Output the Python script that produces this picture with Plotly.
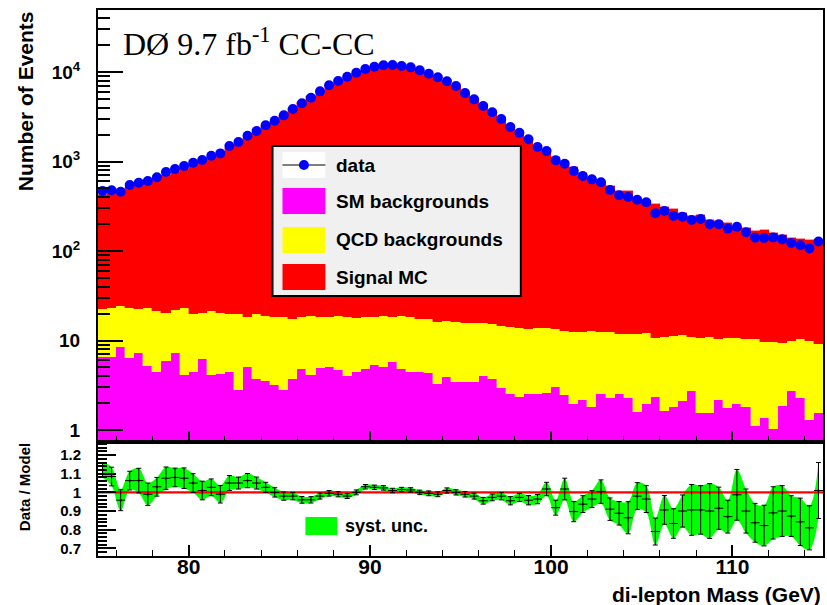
import plotly.graph_objects as go

# ---------------- data ----------------
mass_bins = [75.25 + 0.5 * i for i in range(80)]          # bin centres, GeV
bin_width = 0.5

data_events = [468, 478, 460, 547, 580, 605, 666, 763, 824, 890,
               970, 1040, 1160, 1232, 1490, 1650, 1940, 2190, 2540, 2860,
               3280, 3860, 4470, 5160, 6080, 7100, 7920, 8850, 9810, 10800,
               11460, 11880, 11970, 11670, 11280, 10440, 9580, 8730, 7870, 6980,
               5820, 4950, 4170, 3550, 2990, 2430, 2100, 1770, 1450, 1310,
               1030, 946, 784, 689, 632, 586, 481, 419, 401, 374,
               350, 264, 280, 246, 242, 222, 228, 199, 199, 178,
               187, 162, 141, 140, 142, 135, 123, 116, 107, 128]

sm_backgrounds = [6.6, 6.6, 8.5, 6.3, 7.2, 5.2, 4.5, 5.9, 7.3, 4.15,
                  4.45, 6.2, 4.1, 4.2, 4.5, 2.8, 5.05, 3.7, 3.5, 3.2,
                  2.8, 3.7, 4.85, 4.15, 4.9, 5.0, 4.7, 4.0, 4.5, 4.85,
                  5.3, 5.0, 5.8, 4.85, 4.45, 4.4, 4.3, 3.3, 3.9, 3.4,
                  3.4, 3.45, 4.0, 3.7, 2.97, 2.5, 2.35, 2.5, 2.55, 2.6,
                  3.05, 2.45, 1.94, 2.16, 1.79, 2.55, 2.3, 2.55, 2.26, 1.57,
                  1.94, 2.35, 1.64, 1.79, 2.1, 2.75, 1.54, 1.56, 2.15, 1.75,
                  1.94, 1.82, 1.11, 1.35, 1.02, 1.87, 2.75, 2.3, 1.29, 1.54]

sm_plus_qcd = [22.5, 22.9, 24.5, 23.0, 22.5, 22.9, 21.5, 20.5, 21.9, 22.9,
               19.8, 20.5, 21.4, 20.1, 19.6, 19.6, 18.2, 19.8, 18.8, 18.5,
               18.2, 17.5, 18.2, 19.0, 18.2, 18.5, 18.8, 18.5, 17.8, 18.2,
               18.5, 18.8, 18.5, 18.8, 18.2, 17.3, 17.3, 16.0, 16.5, 16.0,
               15.6, 15.8, 15.8, 15.2, 14.5, 14.0, 13.7, 13.5, 13.8, 13.8,
               13.5, 12.7, 12.6, 12.4, 12.7, 12.4, 12.4, 11.9, 11.9, 11.7,
               12.2, 10.6, 11.0, 11.2, 11.5, 11.0, 10.6, 10.9, 10.3, 10.8,
               10.6, 10.3, 10.3, 9.7, 9.7, 9.5, 10.0, 10.4, 10.0, 9.1]

data_over_model = [1.12, 1.085, 0.958, 1.063, 1.063, 0.99, 1.03, 1.076, 1.08, 1.076,
                   1.05, 1.01, 1.027, 0.99, 1.05, 1.05, 1.063, 1.05, 1.027, 1.0,
                   0.98, 0.98, 0.96, 0.96, 0.98, 0.995, 0.99, 0.98, 1.0, 1.03,
                   1.027, 1.024, 1.01, 1.015, 1.013, 1.0, 0.995, 0.99, 1.01, 1.0,
                   0.99, 0.98, 0.955, 0.973, 0.98, 0.955, 0.973, 0.958, 0.964, 1.018,
                   0.918, 1.018, 0.897, 0.937, 0.964, 1.004, 0.91, 0.888, 0.864, 0.98,
                   0.964, 0.79, 0.906, 0.833, 0.9, 0.906, 0.906, 0.9, 0.915, 0.87,
                   0.987, 0.9, 0.837, 0.822, 0.89, 0.9, 0.873, 0.842, 0.81, 1.01]

ratio_unc = [0.04, 0.05, 0.056, 0.05, 0.066, 0.06, 0.05, 0.06, 0.05, 0.055,
             0.05, 0.05, 0.045, 0.047, 0.04, 0.032, 0.038, 0.032, 0.027, 0.025,
             0.022, 0.02, 0.018, 0.017, 0.016, 0.015, 0.014, 0.013, 0.013, 0.012,
             0.012, 0.012, 0.012, 0.012, 0.012, 0.012, 0.013, 0.013, 0.014, 0.014,
             0.015, 0.016, 0.018, 0.018, 0.02, 0.022, 0.022, 0.025, 0.025, 0.036,
             0.04, 0.058, 0.054, 0.045, 0.045, 0.063, 0.06, 0.063, 0.086, 0.072,
             0.072, 0.072, 0.077, 0.079, 0.086, 0.136, 0.13, 0.147, 0.113, 0.088,
             0.136, 0.118, 0.104, 0.109, 0.14, 0.136, 0.109, 0.127, 0.118, 0.15]

y_tick_vals = [1, 10, 100, 1000, 10000]
y_tick_text = ["1", "10", "10<sup>2</sup>", "10<sup>3</sup>", "10<sup>4</sup>"]
r_tick_vals = [0.7, 0.8, 0.9, 1.0, 1.1, 1.2]
r_tick_text = ["0.7", "0.8", "0.9", "1", "1.1", "1.2"]
x_tick_vals = [80, 90, 100, 110]

# derived stack components
qcd_backgrounds = [t - s for t, s in zip(sm_plus_qcd, sm_backgrounds)]
model_total = [d / r for d, r in zip(data_events, data_over_model)]
signal_mc = [m - t for m, t in zip(model_total, sm_plus_qcd)]
band_lo = [r - e for r, e in zip(data_over_model, ratio_unc)]
band_hi = [r + e for r, e in zip(data_over_model, ratio_unc)]

# ---------------- geometry helpers ----------------
W, H = 827, 605
ML, MR, MT, MB = 98, 2, 10, 49
PW, PH = W - ML - MR, H - MT - MB
split = (556 - 442) / PH


def px(x):
    return (x - ML) / PW


def py(y):
    return (H - MB - y) / PH


FONT = "Liberation Sans, Arial, sans-serif"
fig = go.Figure()

# stacked histograms
for vals, col in [(sm_backgrounds, "#ff00ff"), (qcd_backgrounds, "#ffff00"), (signal_mc, "#ff0000")]:
    fig.add_trace(go.Bar(x=mass_bins, y=vals, width=bin_width,
                         marker=dict(color=col, line=dict(width=0.4, color=col)),
                         xaxis="x", yaxis="y", showlegend=False, hoverinfo="skip"))

# data points
fig.add_trace(go.Scatter(x=mass_bins, y=data_events, mode="markers",
                         marker=dict(color="#0000ff", size=10),
                         xaxis="x", yaxis="y", showlegend=False))

# ratio panel: syst band
fig.add_trace(go.Scatter(x=mass_bins, y=band_lo, mode="lines",
                         line=dict(width=0, shape="spline", smoothing=1, color="#00ff00"),
                         xaxis="x2", yaxis="y2", showlegend=False, hoverinfo="skip"))
fig.add_trace(go.Scatter(x=mass_bins, y=band_hi, mode="lines", fill="tonexty",
                         fillcolor="#00ff00",
                         line=dict(width=0, shape="spline", smoothing=1, color="#00ff00"),
                         xaxis="x2", yaxis="y2", showlegend=False, hoverinfo="skip"))
# reference line at 1
fig.add_trace(go.Scatter(x=[75, 115], y=[1, 1], mode="lines",
                         line=dict(color="#ff0000", width=2.2),
                         xaxis="x2", yaxis="y2", showlegend=False, hoverinfo="skip"))
# ratio points
fig.add_trace(go.Scatter(x=mass_bins, y=data_over_model, mode="markers",
                         marker=dict(color="black", size=2),
                         error_x=dict(type="constant", value=bin_width / 2, color="black",
                                      thickness=1, width=0),
                         error_y=dict(type="data", array=ratio_unc, color="black",
                                      thickness=1, width=2.5),
                         xaxis="x2", yaxis="y2", showlegend=False))

minor_x = [v for v in range(76, 115, 2) if v % 10 != 0]
minor_y = [m * 10 ** e for e in range(0, 5) for m in range(2, 10) if m * 10 ** e < 50000]
minor_r = [round(0.66 + 0.02 * i, 2) for i in range(31)]
minor_r = [v for v in minor_r if abs(v * 10 - round(v * 10)) > 1e-6]

common_x = dict(range=[75, 115], showline=True, mirror=True, linecolor="black", linewidth=2,
                ticks="inside", tickvals=x_tick_vals, ticklen=11, tickwidth=1.5, tickcolor="black",
                showgrid=False, zeroline=False,
                minor=dict(ticks="inside", tickvals=minor_x, ticklen=6, tickwidth=1,
                           tickcolor="black", showgrid=False))

fig.update_layout(
    width=W, height=H, margin=dict(l=ML, r=MR, t=MT, b=MB),
    paper_bgcolor="white", plot_bgcolor="white",
    barmode="stack", bargap=0, showlegend=False,
    font=dict(family=FONT, color="black"),
    xaxis=dict(domain=[0, 1], anchor="y", showticklabels=False, **common_x),
    xaxis2=dict(domain=[0, 1], anchor="y2", matches="x", showticklabels=True,
                ticktext=[str(v) for v in x_tick_vals], ticklabelstandoff=-9,
                tickfont=dict(family=FONT, size=21, weight="bold"), **common_x),
    yaxis=dict(domain=[split, 1], anchor="x", type="log", range=[-0.134, 4.693],
               showline=True, mirror=True, linecolor="black", linewidth=2,
               ticks="inside", tickmode="array", tickvals=y_tick_vals, ticktext=y_tick_text,
               ticklen=25, tickwidth=2, tickcolor="black", ticklabelstandoff=12,
               tickfont=dict(family=FONT, size=19, weight="bold"),
               showgrid=False, zeroline=False,
               minor=dict(ticks="inside", tickmode="array", tickvals=minor_y, ticklen=12,
                          tickwidth=2, tickcolor="black", showgrid=False)),
    yaxis2=dict(domain=[0, split], anchor="x2", range=[0.659, 1.27],
                showline=True, mirror=True, linecolor="black", linewidth=2,
                ticks="inside", tickmode="array", tickvals=r_tick_vals, ticktext=r_tick_text,
                ticklen=18, tickwidth=2, tickcolor="black", ticklabelstandoff=12,
                tickfont=dict(family=FONT, size=15, weight="bold"),
                showgrid=False, zeroline=False,
                minor=dict(ticks="inside", tickmode="array", tickvals=minor_r, ticklen=9,
                           tickwidth=1.5, tickcolor="black", showgrid=False)),
)

shapes = []
annotations = []

# main legend box
shapes.append(dict(type="rect", xref="paper", yref="paper", x0=px(273), x1=px(522),
                   y0=py(296), y1=py(146), fillcolor="#f0f0f0",
                   line=dict(color="black", width=2), layer="above"))
# data entry
shapes.append(dict(type="rect", xref="paper", yref="paper", x0=px(283), x1=px(326),
                   y0=py(178), y1=py(152), fillcolor="white", line=dict(width=0), layer="above"))
shapes.append(dict(type="line", xref="paper", yref="paper", x0=px(283), x1=px(326),
                   y0=py(165), y1=py(165), line=dict(color="black", width=1.2), layer="above"))
shapes.append(dict(type="circle", xref="paper", yref="paper", x0=px(299.5), x1=px(309.5),
                   y0=py(170), y1=py(160), fillcolor="#0000ff", line=dict(color="#0000ff", width=0),
                   layer="above"))
legend_rows = [("data", None, 165), ("SM backgrounds", "#ff00ff", 201),
               ("QCD backgrounds", "#ffff00", 240), ("Signal MC", "#ff0000", 277)]
for label, col, yc in legend_rows:
    if col:
        shapes.append(dict(type="rect", xref="paper", yref="paper", x0=px(283), x1=px(326),
                           y0=py(yc + 13), y1=py(yc - 13), fillcolor=col,
                           line=dict(width=0), layer="above"))
    annotations.append(dict(text=label, xref="paper", yref="paper", x=px(335), y=py(yc),
                            xanchor="left", yanchor="middle", showarrow=False,
                            font=dict(family=FONT, size=19, weight="bold", color="black")))

# syst. unc. legend
shapes.append(dict(type="rect", xref="paper", yref="paper", x0=px(306), x1=px(338),
                   y0=py(535), y1=py(517), fillcolor="#00ff00", line=dict(width=0), layer="above"))
annotations.append(dict(text="syst. unc.", xref="paper", yref="paper", x=px(344), y=py(526),
                        xanchor="left", yanchor="middle", showarrow=False,
                        font=dict(family=FONT, size=18, weight="bold", color="black")))

# title text
annotations.append(dict(text="DØ 9.7 fb<sup>-1</sup> CC-CC", xref="paper", yref="paper",
                        x=px(121), y=py(42), xanchor="left", yanchor="middle", showarrow=False,
                        font=dict(family="Liberation Serif, Times New Roman, serif", size=32,
                                  color="black")))
# axis titles
annotations.append(dict(text="Number of Events", xref="paper", yref="paper",
                        x=px(26), y=py(101), xanchor="center", yanchor="middle", textangle=-90,
                        showarrow=False, font=dict(family=FONT, size=21, weight="bold")))
annotations.append(dict(text="Data / Model", xref="paper", yref="paper",
                        x=px(24), y=py(487), xanchor="center", yanchor="middle", textangle=-90,
                        showarrow=False, font=dict(family=FONT, size=15, weight="bold")))
annotations.append(dict(text="di-lepton Mass (GeV)", xref="paper", yref="paper",
                        x=px(825), y=py(594), xanchor="right", yanchor="middle",
                        showarrow=False, font=dict(family=FONT, size=21, weight="bold")))

fig.update_layout(shapes=shapes, annotations=annotations)
fig.write_html("out.html", config={"displayModeBar": False},
               post_script="document.body.style.margin='0px';document.body.style.overflow='hidden';")
